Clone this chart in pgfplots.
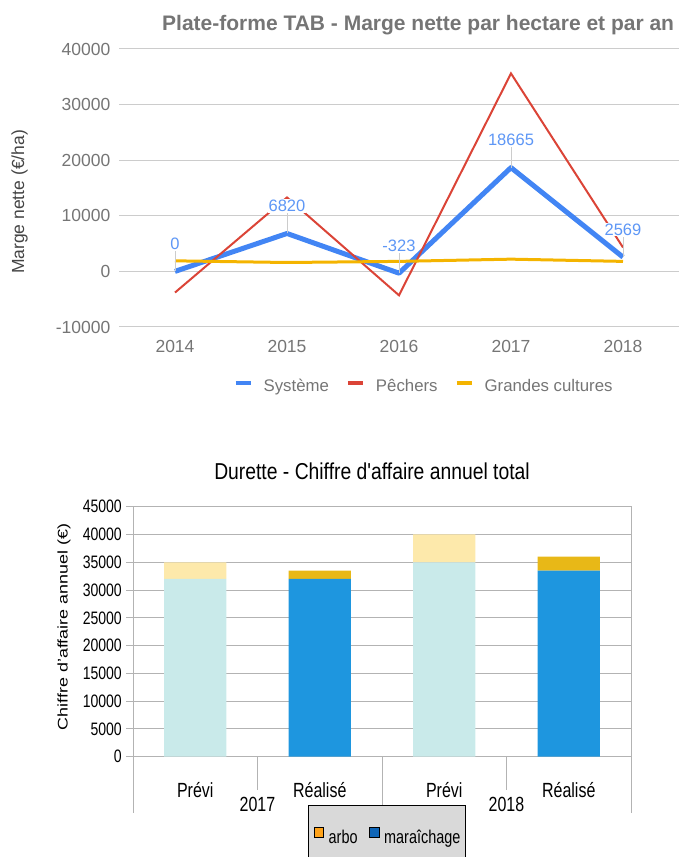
\documentclass[border=0pt]{standalone}
\usepackage{fontspec}
\setmainfont{Liberation Sans}
\newfontfamily\narrowfont[FakeStretch=0.78]{Liberation Sans}
\newfontfamily\titlefont[FakeStretch=0.84]{Liberation Sans}
\usepackage{graphicx}
\usepackage{pgfplots}
\pgfplotsset{compat=1.18}
\definecolor{gtxt}{HTML}{757575}
\definecolor{gdark}{HTML}{444444}
\definecolor{ggrid}{HTML}{CCCCCC}
\definecolor{sysblue}{HTML}{4285F4}
\definecolor{lblblue}{HTML}{5E97F6}
\definecolor{pechred}{HTML}{DB4437}
\definecolor{gcyellow}{HTML}{F4B400}
\definecolor{lograph}{HTML}{B3B3B3}
\definecolor{prevmar}{HTML}{C9EAEA}
\definecolor{prevarb}{HTML}{FDE9AB}
\definecolor{realmar}{HTML}{1E96DF}
\definecolor{realarb}{HTML}{E8B817}
\definecolor{legarb}{HTML}{FFA31A}
\definecolor{legmar}{HTML}{0F66B8}
\definecolor{legbg}{HTML}{D9D9D9}

\begin{document}
\begin{tikzpicture}
\useasboundingbox (0,0) rectangle (679bp,857bp);
% ---------------- top chart ----------------
\begin{axis}[
  at={(119bp,530bp)}, anchor=south west,
  scale only axis, width=560bp, height=278bp,
  xmin=-0.5, xmax=4.5, ymin=-10000, ymax=40000,
  scaled y ticks=false,
  axis line style={draw=none},
  xtick={0,1,2,3,4}, xticklabels={2014,2015,2016,2017,2018},
  ytick={-10000,0,10000,20000,30000,40000},
  yticklabels={-10000,0,10000,20000,30000,40000},
  major tick length=0pt,
  ymajorgrids, major grid style={draw=ggrid, line width=1bp},
  extra y ticks={0}, extra y tick labels={},
  extra y tick style={grid style={draw=black, line width=1bp}},
  ticklabel style={font=\fontsize{17.5bp}{20bp}\selectfont, text=gtxt},
  yticklabel style={anchor=east, inner sep=0pt, xshift=-8.5bp},
  xticklabel style={anchor=north, inner sep=0pt, yshift=-13bp},
  clip=false,
  legend columns=3,
  legend style={draw=none, fill=none, at={(0.543,-0.2122)}, anchor=center,
     nodes={inner sep=0pt}, font=\fontsize{16.8bp}{19bp}\selectfont, text=gtxt,
     /tikz/every odd column/.style={column sep=11bp},
     /tikz/every even column/.style={column sep=17bp}},
  legend image code/.code={\draw[#1, line width=4bp] (0bp,0.3em) -- (15bp,0.3em);},
]
\addplot[sysblue, line width=5bp, line join=round] coordinates {(0,0) (1,6820) (2,-323) (3,18665) (4,2569)};
\addlegendentry{Système}
\addplot[pechred, line width=2bp] coordinates {(0,-3800) (1,13300) (2,-4300) (3,35600) (4,4300)};
\addlegendentry{Pêchers}
\addplot[gcyellow, line width=3bp] coordinates {(0,1900) (1,1600) (2,1800) (3,2200) (4,1800)};
\addlegendentry{Grandes cultures}
\addplot[draw=none, forget plot, point meta=explicit symbolic,
  nodes near coords,
  every node near coord/.append style={anchor=center, yshift=27.7bp, fill=white, inner sep=1bp,
     text=lblblue, font=\fontsize{16.5bp}{18bp}\selectfont},
  error bars/.cd, y dir=plus, y fixed=3700, error mark=none,
  error bar style={draw=ggrid, line width=1bp}]
  coordinates {(0,0) [0] (1,6820) [6820] (2,-323) [-323] (3,18665) [18665] (4,2569) [2569]};
\end{axis}
\node[anchor=base west, text=gtxt, font=\bfseries\fontsize{21bp}{24bp}\selectfont, inner sep=0pt]
  at (162bp,826.3bp) {Plate-forme TAB - Marge nette par hectare et par an};
\node[rotate=90, text=gdark, font=\fontsize{17.5bp}{20bp}\selectfont, inner sep=0pt]
  at (19.5bp,655bp) {Marge nette (€/ha)};
% ---------------- bottom chart ----------------
\begin{axis}[
  at={(133bp,100.3bp)}, anchor=south west,
  scale only axis, width=498bp, height=250bp,
  xmin=-0.5, xmax=3.5, ymin=0, ymax=45000,
  scaled y ticks=false,
  ybar stacked, bar width=0.5,
  axis line style={draw=lograph, line width=1bp},
  xtick={0,1,2,3}, xticklabels={Prévi,Réalisé,Prévi,Réalisé},
  ytick={0,5000,10000,15000,20000,25000,30000,35000,40000,45000},
  yticklabels={0,5000,10000,15000,20000,25000,30000,35000,40000,45000},
  tick pos=left, tick align=outside, major tick length=6.5bp,
  xtick style={draw=none},
  ytick style={draw=lograph, line width=1bp},
  ymajorgrids, major grid style={draw=lograph, line width=1bp},
  yticklabel style={anchor=east, inner sep=0pt, xshift=-4.5bp, font=\narrowfont\fontsize{18bp}{20bp}\selectfont},
  xticklabel style={anchor=base, inner sep=0pt, yshift=-34.3bp, font=\narrowfont\fontsize{20.5bp}{22bp}\selectfont},
  clip=false,
  legend columns=2,
  legend style={draw=black, line width=1bp, fill=legbg, at={(0.352,-0.1932)}, anchor=north west,
     inner xsep=5bp, inner ysep=21bp,
     nodes={inner sep=0pt}, font=\narrowfont\fontsize{18.5bp}{21bp}\selectfont,
     /tikz/every odd column/.style={column sep=4.5bp},
     /tikz/every even column/.style={column sep=11.7bp}},
  legend image code/.code={\fill[#1] (0bp,0bp) rectangle (9.4bp,10.7bp);},
]
\addplot[fill=prevmar, draw=none, forget plot] coordinates {(0,32000) (1,0) (2,35000) (3,0)};
\addplot[fill=realmar, draw=none, forget plot] coordinates {(0,0) (1,32000) (2,0) (3,33500)};
\addplot[fill=prevarb, draw=none, forget plot] coordinates {(0,3000) (1,0) (2,5000) (3,0)};
\addplot[fill=realarb, draw=none, forget plot] coordinates {(0,0) (1,1500) (2,0) (3,2500)};
\addlegendimage{fill=legarb}
\addlegendentry{arbo}
\addlegendimage{fill=legmar}
\addlegendentry{maraîchage}
\draw[lograph, line width=1bp] (axis cs:0.5,0) -- ++(0pt,-33.3bp);
\draw[lograph, line width=1bp] (axis cs:2.5,0) -- ++(0pt,-33.3bp);
\draw[lograph, line width=1bp] (axis cs:-0.5,0) -- ++(0pt,-56.3bp);
\draw[lograph, line width=1bp] (axis cs:1.5,0) -- ++(0pt,-56.3bp);
\draw[lograph, line width=1bp] (axis cs:3.5,0) -- ++(0pt,-56.3bp);
\node[anchor=base, inner sep=0pt, yshift=-55bp, font=\narrowfont\fontsize{20.5bp}{22bp}\selectfont] at (axis cs:0.5,0) {2017};
\node[anchor=base, inner sep=0pt, yshift=-55bp, font=\narrowfont\fontsize{20.5bp}{22bp}\selectfont] at (axis cs:2.5,0) {2018};
\end{axis}
\node[anchor=base, inner sep=0pt, font=\titlefont\fontsize{23bp}{26bp}\selectfont]
  at (372bp,377.7bp) {Durette - Chiffre d'affaire annuel total};
\node[inner sep=0pt] at (64bp,230bp)
  {\rotatebox{90}{\scalebox{1}[0.78]{\fontsize{17.9bp}{20bp}\selectfont Chiffre d'affaire annuel (€)}}};
\end{tikzpicture}
\end{document}
